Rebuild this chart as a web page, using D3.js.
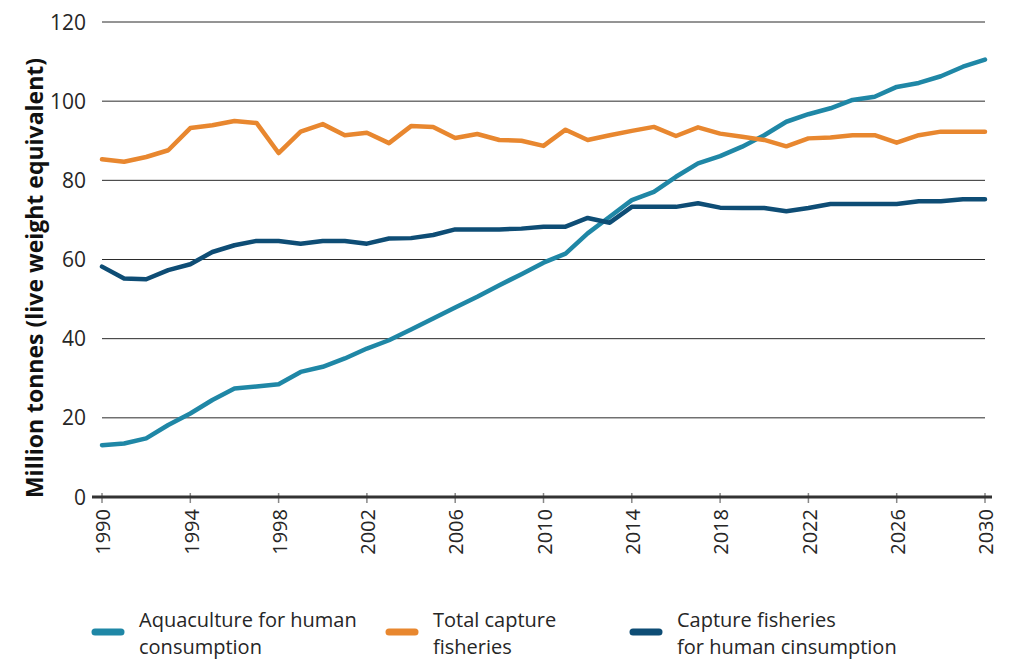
<!DOCTYPE html>
<html><head><meta charset="utf-8">
<script src="https://cdn.jsdelivr.net/npm/d3@7"></script>
<style>
html,body{margin:0;padding:0;background:#fff;}
svg{display:block;}
text{font-family:"Open Sans","Noto Sans",sans-serif;}
</style></head>
<body>
<script>
const years = d3.range(1990, 2031);
const aquaculture = [13.1,13.5,14.8,18.2,21.1,24.5,27.4,27.9,28.5,31.6,32.9,35.0,37.5,39.6,42.3,45.1,47.9,50.6,53.5,56.3,59.2,61.5,66.6,70.8,75.0,77.1,80.9,84.3,86.1,88.5,91.4,94.8,96.7,98.2,100.3,101.1,103.6,104.6,106.3,108.7,110.5];
const totalCapture = [85.3,84.7,85.9,87.6,93.2,93.9,95.0,94.5,86.9,92.3,94.2,91.4,92.0,89.4,93.7,93.5,90.7,91.7,90.2,90.0,88.7,92.8,90.2,91.4,92.5,93.5,91.2,93.4,91.8,91.0,90.2,88.6,90.6,90.8,91.4,91.4,89.5,91.4,92.3,92.3,92.3];
const captureHuman = [58.2,55.2,55.0,57.3,58.8,61.9,63.6,64.7,64.7,64.0,64.7,64.7,64.0,65.3,65.4,66.2,67.6,67.6,67.6,67.8,68.3,68.3,70.5,69.3,73.3,73.3,73.3,74.2,73.1,73.0,73.0,72.2,73.0,74.0,74.0,74.0,74.0,74.7,74.7,75.2,75.2];
const xTicks = [1990,1994,1998,2002,2006,2010,2014,2018,2022,2026,2030];
const yTicks = [0,20,40,60,80,100,120];
const seriesNames = [["Aquaculture for human","consumption"],["Total capture","fisheries"],["Capture fisheries","for human cinsumption"]];
const seriesColors = ["#1f87a6","#e8872f","#0e4d75"];
const seriesData = [aquaculture,totalCapture,captureHuman];

const W = 1009, H = 661;
const svg = d3.select("body").append("svg").attr("width",W).attr("height",H);
const x = d3.scaleLinear().domain([1990,2030]).range([102,985]);
const y = d3.scaleLinear().domain([0,120]).range([497,22]);

// gridlines
svg.append("g").selectAll("line").data(yTicks.filter(d=>d>0)).join("line")
  .attr("x1",x(1990)).attr("x2",x(2030))
  .attr("y1",d=>y(d)).attr("y2",d=>y(d))
  .attr("stroke","#2b2b2b").attr("stroke-width",1);

// y labels
svg.append("g").selectAll("text").data(yTicks).join("text")
  .attr("x",86).attr("y",d=>y(d)).attr("dy","0.36em")
  .attr("text-anchor","end").attr("font-size",21).attr("fill","#262626")
  .text(d=>d);

// y title
svg.append("text")
  .attr("transform","translate(43,278) rotate(-90)")
  .attr("text-anchor","middle").attr("font-size",23).attr("font-weight","bold").attr("fill","#111")
  .text("Million tonnes (live weight equivalent)");

// lines
const line = d3.line().x((d,i)=>x(years[i])).y(d=>y(d));
seriesData.forEach((s,k)=>{
  svg.append("path").datum(s).attr("d",line)
    .attr("fill","none").attr("stroke",seriesColors[k]).attr("stroke-width",4.5)
    .attr("stroke-linejoin","round").attr("stroke-linecap","round");
});

// x axis
const xAxisG = svg.append("g").attr("transform",`translate(0,${y(0)})`);
xAxisG.selectAll(".tk").data(xTicks).join("line").attr("class","tk")
  .attr("x1",d=>x(d)).attr("x2",d=>x(d)).attr("y1",-4).attr("y2",6)
  .attr("stroke","#888").attr("stroke-width",1.5);
xAxisG.append("line").attr("x1",92).attr("x2",992).attr("stroke","#333").attr("stroke-width",3);
xAxisG.selectAll("text").data(xTicks).join("text")
  .attr("transform",d=>`translate(${x(d)+1},12) rotate(-90)`)
  .attr("text-anchor","end").attr("dy","0.36em")
  .attr("font-size",20).attr("fill","#262626")
  .text(d=>d);

// legend
const legX = [92,386,630];
const legG = svg.append("g");
seriesNames.forEach((nm,k)=>{
  legG.append("line").attr("x1",legX[k]+3).attr("x2",legX[k]+29)
    .attr("y1",632).attr("y2",632).attr("stroke",seriesColors[k])
    .attr("stroke-width",7).attr("stroke-linecap","round");
  const tx = legX[k]+47;
  nm.forEach((ln,j)=>legG.append("text").attr("x",tx).attr("y",627+j*27)
    .attr("font-size",20).attr("fill","#262626").text(ln));
});
</script>
</body></html>
